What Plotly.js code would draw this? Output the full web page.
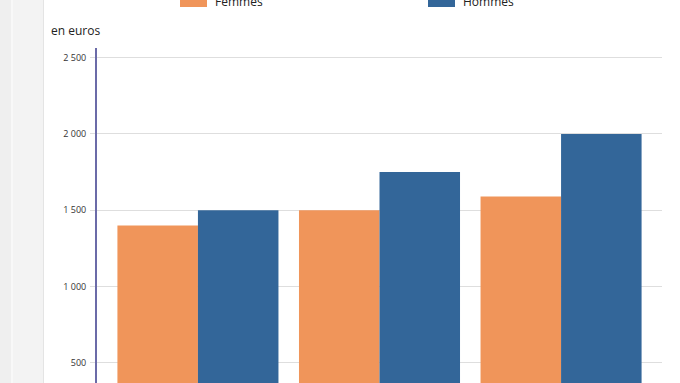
<!DOCTYPE html>
<html>
<head>
<meta charset="utf-8">
<script src="https://cdn.plot.ly/plotly-3.0.1.min.js"></script>
<style>
  html, body { margin:0; padding:0; width:680px; height:383px; overflow:hidden; background:#fff; }
  #strip1 { position:absolute; left:0; top:0; width:11px; height:383px; background:#efefef; }
  #strip2 { position:absolute; left:11px; top:0; width:2px; height:383px; background:#f8f8f8; }
  #strip3 { position:absolute; left:13px; top:0; width:30px; height:383px; background:#f3f3f3; }
  #strip4 { position:absolute; left:43px; top:0; width:1px; height:383px; background:#e4e4e4; }
  #chart { position:absolute; left:0; top:0; width:680px; height:500px; }
</style>
</head>
<body>
<div id="strip1"></div><div id="strip2"></div><div id="strip3"></div><div id="strip4"></div>
<div id="chart"></div>
<script>
const categories = ["Catégorie 1", "Catégorie 2", "Catégorie 3"];
const femmes = [1400, 1500, 1590];
const hommes = [1500, 1750, 2000];
const seriesNames = ["Femmes", "Hommes"];
const yTitle = "en euros";

const orange = "#f0955a";
const blue = "#336699";

const traces = [
  { type: "bar", name: seriesNames[0], x: categories, y: femmes, marker: { color: orange }, hoverinfo: "none" },
  { type: "bar", name: seriesNames[1], x: categories, y: hommes, marker: { color: blue }, hoverinfo: "none" }
];

const layout = {
  width: 680, height: 500,
  margin: { l: 97, r: 18, t: 48, b: 61, pad: 0 },
  paper_bgcolor: "rgba(0,0,0,0)",
  plot_bgcolor: "#fff",
  showlegend: false,
  barmode: "group",
  bargap: 0.113,
  bargroupgap: 0,
  separators: ", ",
  font: { family: "Open Sans, sans-serif", color: "#333" },
  title: {
    text: yTitle,
    x: 51 / 680, xref: "container", xanchor: "left",
    y: 1 - 31 / 500, yref: "container", yanchor: "middle",
    font: { size: 12, color: "#222", family: "Open Sans, sans-serif" }
  },
  xaxis: {
    range: [-0.556, 2.556],
    showgrid: false, zeroline: false, showline: false,
    showticklabels: false, ticks: ""
  },
  yaxis: {
    range: [0, 2563],
    tickvals: [500, 1000, 1500, 2000, 2500],
    separatethousands: true,
    showgrid: true, gridcolor: "#dedede", gridwidth: 1,
    zeroline: false,
    showline: true, linecolor: "#6b6ba8", linewidth: 2,
    ticks: "outside", ticklen: 5, tickcolor: "#dedede", tickwidth: 1,
    ticklabelstandoff: 2,
    tickfont: { size: 9, color: "#333" }
  },
  shapes: [
    { type: "rect", xref: "paper", yref: "paper", x0: 83/565, x1: 110/565, y0: 432/391, y1: 446/391, fillcolor: orange, line: { width: 0 } },
    { type: "rect", xref: "paper", yref: "paper", x0: 331/565, x1: 358/565, y0: 432/391, y1: 446/391, fillcolor: blue, line: { width: 0 } }
  ],
  annotations: [
    { text: seriesNames[0], xref: "paper", yref: "paper", x: 116/565, y: 438/391, xanchor: "left", yanchor: "middle", showarrow: false, font: { size: 12, color: "#222" } },
    { text: seriesNames[1], xref: "paper", yref: "paper", x: 364/565, y: 438/391, xanchor: "left", yanchor: "middle", showarrow: false, font: { size: 12, color: "#222" } }
  ]
};

Plotly.newPlot("chart", traces, layout, { displayModeBar: false, staticPlot: true });
</script>
</body>
</html>
